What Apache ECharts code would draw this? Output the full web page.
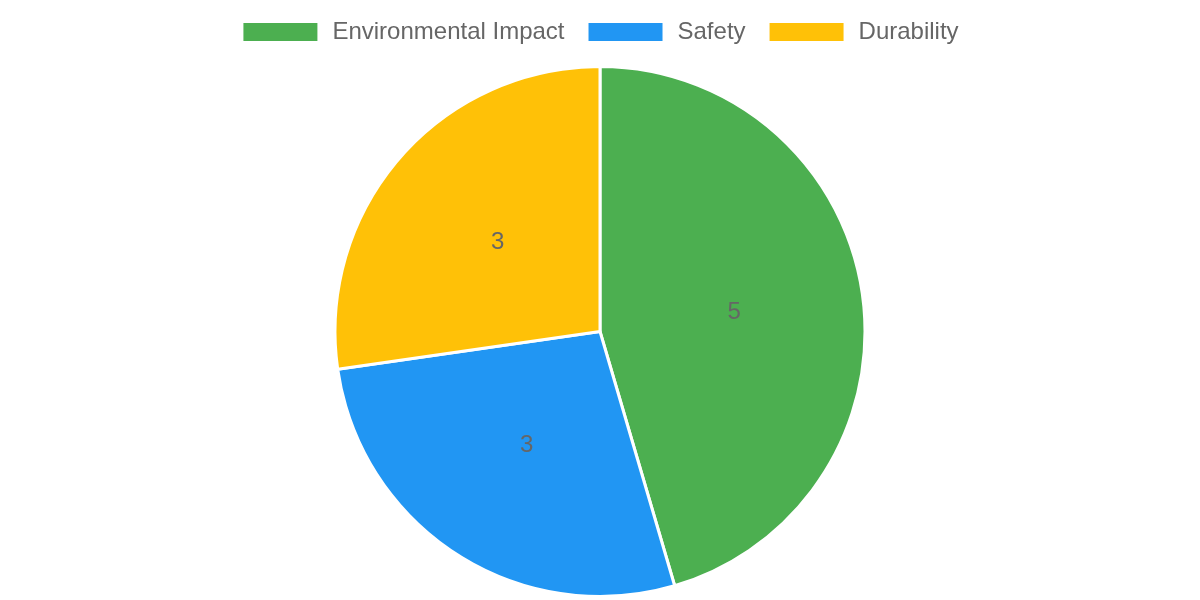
<!DOCTYPE html>
<html>
<head>
<meta charset="utf-8">
<script src="https://cdn.jsdelivr.net/npm/echarts@6/dist/echarts.min.js"></script>
<style>html,body{margin:0;padding:0;background:#fff}#c{width:1200px;height:600px}</style>
</head>
<body>
<div id="c"></div>
<script>
const categories = ["Environmental Impact", "Safety", "Durability"];
const values = [5, 3, 3];
const colors = ["#4CAF50", "#2196F3", "#FFC107"];

const chart = echarts.init(document.getElementById('c'));
chart.setOption({
  animation: false,
  color: colors,
  legend: {
    top: 15,
    left: 'center',
    itemWidth: 76,
    itemHeight: 20,
    itemGap: 22,
    icon: 'rect',
    textStyle: { fontFamily: 'Liberation Sans, Arial, sans-serif', fontSize: 24, color: '#666', padding: [0, 0, 0, 9] },
    data: categories
  },
  series: [{
    type: 'pie',
    center: [600, 331.5],
    radius: [0, 265],
    startAngle: 90,
    clockwise: true,
    itemStyle: { borderColor: '#fff', borderWidth: 3 },
    label: {
      position: 'inner',
      formatter: '{c}',
      fontFamily: 'Liberation Sans, Arial, sans-serif',
      fontSize: 24,
      color: '#666'
    },
    labelLine: { show: false },
    emphasis: { disabled: true },
    data: categories.map((n, i) => ({ name: n, value: values[i] }))
  }]
});
</script>
</body>
</html>
